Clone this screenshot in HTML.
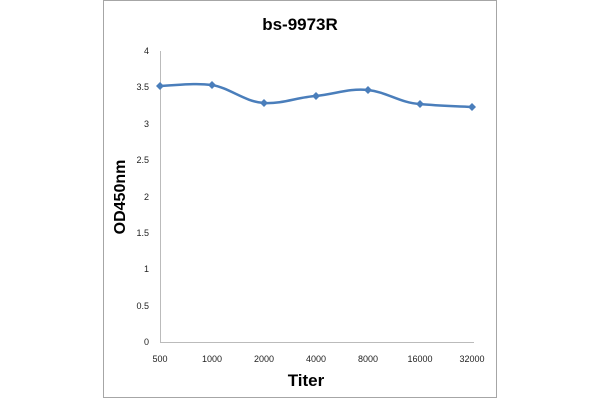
<!DOCTYPE html>
<html><head><style>body{margin:0;background:#fff}</style></head><body>
<svg width="600" height="400" xmlns="http://www.w3.org/2000/svg" font-family="Liberation Sans, DejaVu Sans, sans-serif">
<rect x="0" y="0" width="600" height="400" fill="#fff"/>
<rect x="103.5" y="0.5" width="393" height="397" fill="none" stroke="#a6a6a6" stroke-width="1"/>
<text x="300" y="30" text-anchor="middle" font-size="17" font-weight="bold">bs-9973R</text>
<line x1="160.5" y1="51" x2="160.5" y2="342" stroke="#bbb"/>
<line x1="160" y1="342.5" x2="474" y2="342.5" stroke="#bbb"/>
<g font-size="9" fill="#222" text-anchor="end">
<text x="149" y="54">4</text><text x="149" y="90">3.5</text><text x="149" y="127">3</text><text x="149" y="163">2.5</text><text x="149" y="200">2</text><text x="149" y="236">1.5</text><text x="149" y="272">1</text><text x="149" y="309">0.5</text><text x="149" y="345">0</text>
</g>
<g font-size="9" fill="#222" text-anchor="middle">
<text x="160" y="362">500</text><text x="212" y="362">1000</text><text x="264" y="362">2000</text><text x="316" y="362">4000</text><text x="368" y="362">8000</text><text x="420" y="362">16000</text><text x="472" y="362">32000</text>
</g>
<text x="306" y="386" text-anchor="middle" font-size="17" font-weight="bold">Titer</text>
<text transform="translate(125,197) rotate(-90)" text-anchor="middle" font-size="16" font-weight="bold">OD450nm</text>
<path d="M160,86 C180,85 195,83 212,85 C230,88 245,102 264,103 C283,104 298,97 316,96 C335,94 350,88 368,90 C387,92 400,103 420,104 C440,106 455,106 472,107" fill="none" stroke="#4a7ebb" stroke-width="2.5"/>
<g fill="#4a7ebb">
<path d="M160,82 l4,4 l-4,4 l-4,-4z"/><path d="M212,81 l4,4 l-4,4 l-4,-4z"/><path d="M264,99 l4,4 l-4,4 l-4,-4z"/><path d="M316,92 l4,4 l-4,4 l-4,-4z"/><path d="M368,86 l4,4 l-4,4 l-4,-4z"/><path d="M420,100 l4,4 l-4,4 l-4,-4z"/><path d="M472,103 l4,4 l-4,4 l-4,-4z"/>
</g>
</svg>
</body></html>
